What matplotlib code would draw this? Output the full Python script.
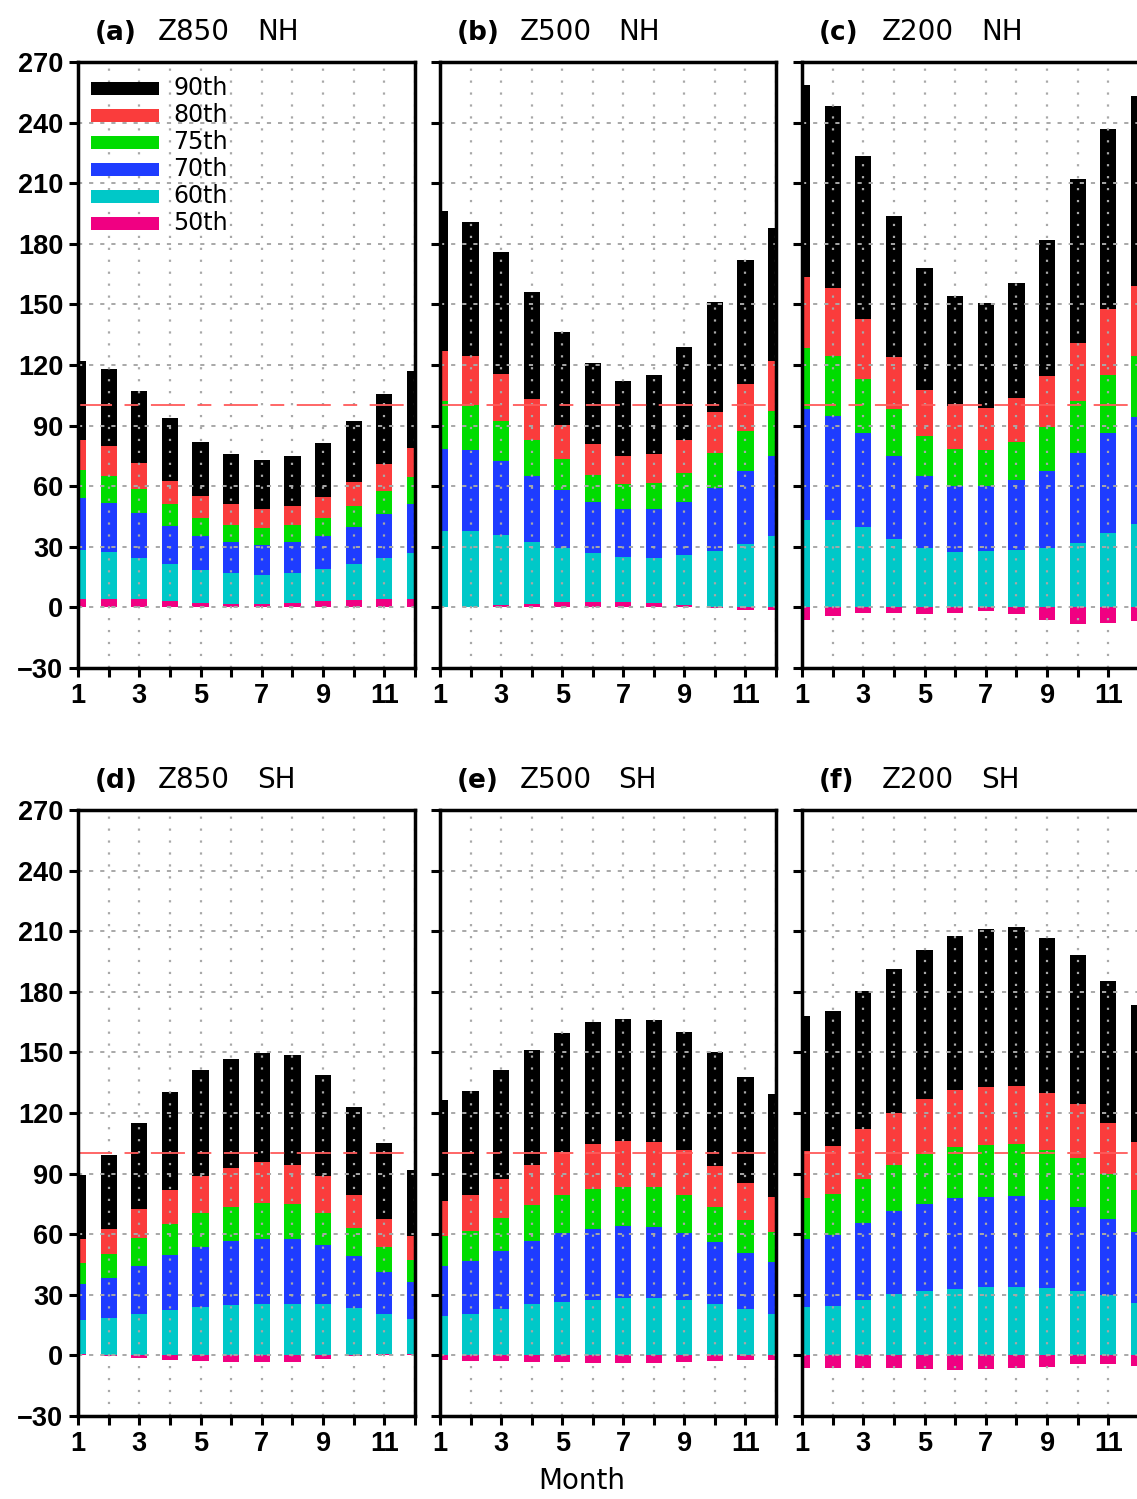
import matplotlib
matplotlib.use('Agg')
import matplotlib.pyplot as plt
from matplotlib.patches import Rectangle

plt.rcParams['lines.scale_dashes'] = False
plt.rcParams['font.family'] = ['DejaVu Sans']

months = list(range(1, 13))
percentiles = ['90th', '80th', '75th', '70th', '60th', '50th']
colors = ['#000000', '#FA3C3C', '#00DC00', '#1E3CFF', '#00C8C8', '#F00082']
yticks = list(range(-30, 271, 30))
xlabels = [str(m) if m % 2 == 1 else '' for m in months]

# (a) Z850 NH
a_p90 = [122, 118, 107, 94, 82, 76, 73, 75, 81.5, 92.5, 105.5, 117]
a_p80 = [83, 80, 71.5, 62.5, 55, 51, 48.5, 50, 54.5, 62, 71, 79]
a_p75 = [68, 65, 58.5, 51, 44.5, 41, 39.5, 41, 44.5, 50, 57.5, 64.5]
a_p70 = [54, 51.5, 46.5, 40.5, 35.5, 32.5, 31, 32.5, 35.5, 40, 46, 51]
a_p60 = [28.5, 27.5, 24.5, 21.5, 18.5, 17, 16, 17, 19, 21.5, 24.5, 27]
a_p50 = [4.3, 4.3, 4, 3, 2.2, 1.7, 1.5, 2, 3, 3.6, 4.1, 4]

# (b) Z500 NH
b_p90 = [196, 191, 176, 156, 136.5, 121, 112, 115, 129, 151, 172, 188]
b_p80 = [127, 124.5, 115.5, 103, 90.5, 81, 75, 76, 83, 96.5, 110.5, 122]
b_p75 = [102, 100, 92.5, 83, 73.5, 65.5, 61, 61.5, 66.5, 76.5, 87.5, 97]
b_p70 = [78.5, 78, 72.5, 65, 58, 52, 48.5, 48.5, 52, 59, 67.5, 75]
b_p60 = [38, 38, 36, 32.5, 29.5, 27, 25, 24.5, 26, 28, 31.5, 35.5]
b_p50 = [0.3, 0.4, 1.3, 1.8, 2.6, 2.9, 2.9, 2.2, 1.1, -0.4, -1.3, -1.3]

# (c) Z200 NH
c_p90 = [258.5, 248, 223.5, 194, 168, 154, 150.5, 160.5, 182, 212, 237, 253]
c_p80 = [163.5, 158, 143, 124, 107.5, 99.5, 98.5, 103.5, 114.5, 131, 147.5, 159]
c_p75 = [128.5, 124.5, 113, 98, 85, 78.5, 78, 82, 89.5, 102, 115, 124.5]
c_p70 = [98, 95, 86.5, 75, 65, 60, 60, 63, 67.5, 76.5, 86.5, 94.5]
c_p60 = [43.5, 43.5, 40, 34, 29.5, 27.5, 28, 28.5, 29.5, 32, 37, 41.5]
c_p50 = [-6.2, -4.4, -2.6, -2.6, -3.1, -2.6, -1.8, -3.3, -6, -8.2, -7.7, -6.6]

# (d) Z850 SH
d_p90 = [89.5, 99, 115, 130.5, 141.5, 146.5, 149.5, 148.5, 139, 123, 105, 92]
d_p80 = [57.5, 62.5, 72.5, 82, 89, 93, 95.5, 94.5, 89, 79.5, 67.5, 59]
d_p75 = [45.5, 50, 58, 65, 70.5, 73.5, 75.5, 75, 70.5, 63, 53.5, 47]
d_p70 = [35.5, 38.5, 44.5, 49.5, 53.5, 56.5, 57.5, 57.5, 54.5, 49, 41.5, 36.5]
d_p60 = [17.5, 18.5, 20.5, 22.5, 24, 25, 25.5, 25.5, 25.5, 23.5, 20.5, 18]
d_p50 = [0.5, -0.2, -1.2, -2.1, -2.8, -3.1, -3.5, -3.1, -1.9, -0.2, 0.7, 0.9]

# (e) Z500 SH
e_p90 = [126.5, 131, 141.5, 151, 159.5, 165, 166.5, 166, 160, 150, 138, 129.5]
e_p80 = [76.5, 79.5, 87.5, 94.5, 100.5, 104.5, 106, 105.5, 101.5, 94, 85.5, 78.5]
e_p75 = [59, 61.5, 68, 74.5, 79.5, 82.5, 83.5, 83.5, 79.5, 73.5, 67, 61]
e_p70 = [44.5, 46.5, 51.5, 56.5, 60.5, 62.5, 64, 63.5, 60.5, 56, 50.5, 46]
e_p60 = [19.5, 20.5, 23, 25.5, 26.5, 27.5, 28.5, 28.5, 27.5, 25.5, 23, 20.5]
e_p50 = [-2.4, -2.8, -2.8, -3.1, -3.5, -4, -3.8, -3.8, -3.1, -2.8, -2.1, -2.1]

# (f) Z200 SH
f_p90 = [168, 170.5, 180.5, 191.5, 200.5, 207.5, 211, 212, 206.5, 198, 185.5, 173.5]
f_p80 = [101, 103.5, 112, 120, 127, 131.5, 133, 133.5, 130, 124.5, 115, 105.5]
f_p75 = [78, 80, 87.5, 94.5, 99.5, 103, 104, 104.5, 101.5, 97.5, 90, 82]
f_p70 = [57.5, 59.5, 65.5, 71.5, 75, 78, 78.5, 79, 77, 73.5, 67.5, 61]
f_p60 = [24, 24.5, 27.5, 30.5, 32, 33, 34, 34, 33.5, 32, 30, 26]
f_p50 = [-6, -6.2, -6, -6.2, -6.6, -7, -6.6, -6.2, -5.5, -4.5, -4.3, -5]

panels = [
    ('(a)', 'Z850', 'NH', [a_p90, a_p80, a_p75, a_p70, a_p60, a_p50]),
    ('(b)', 'Z500', 'NH', [b_p90, b_p80, b_p75, b_p70, b_p60, b_p50]),
    ('(c)', 'Z200', 'NH', [c_p90, c_p80, c_p75, c_p70, c_p60, c_p50]),
    ('(d)', 'Z850', 'SH', [d_p90, d_p80, d_p75, d_p70, d_p60, d_p50]),
    ('(e)', 'Z500', 'SH', [e_p90, e_p80, e_p75, e_p70, e_p60, e_p50]),
    ('(f)', 'Z200', 'SH', [f_p90, f_p80, f_p75, f_p70, f_p60, f_p50]),
]

W, H = 1137, 1499
fig = plt.figure(figsize=(W / 100, H / 100), dpi=100)

col_px = [(78, 337), (440, 336), (802, 337)]
row_px = [(62, 668), (810, 1416)]

for idx, (tag, lev, hemi, series) in enumerate(panels):
    r, c = divmod(idx, 3)
    x0, w = col_px[c]
    top, bot = row_px[r]
    ax = fig.add_axes([x0 / W, 1 - bot / H, w / W, (bot - top) / H])
    for i, (vals, col) in enumerate(zip(series, colors)):
        ax.bar(months, vals, width=0.53, color=col, linewidth=0, zorder=1 + 0.01 * i)
    ax.set_xlim(1, 12)
    ax.set_ylim(-30, 270)
    ax.set_axisbelow(False)
    ax.xaxis.grid(True, color='#A8A8A8', linestyle=(0, (1.6, 7)), linewidth=1.6)
    ax.yaxis.grid(True, color='#A8A8A8', linestyle=(0, (3, 5)), linewidth=1.4)
    ax.axhline(100, color='#FF5A5A', linewidth=1.3, linestyle=(0, (24.5, 9, 10, 9)), zorder=4)
    ax.set_xticks(months)
    ax.set_xticklabels(xlabels, fontfamily='Liberation Sans', fontweight='bold', fontsize=19.5)
    ax.set_yticks(yticks)
    if c == 0:
        ax.set_yticklabels([str(v).replace('-', '\u2212') for v in yticks],
                           fontfamily='Liberation Sans', fontweight='bold', fontsize=19.5)
    else:
        ax.set_yticklabels([])
    ax.tick_params(axis='both', direction='out', length=6.5, width=2.2, pad=4, color='black')
    for sp in ax.spines.values():
        sp.set_linewidth(2.5)
        sp.set_color('black')
        sp.set_zorder(5)
    ax.text(0.05, 1.036, tag, transform=ax.transAxes, fontsize=19, fontweight='bold',
            ha='left', va='baseline')
    ax.text(0.237, 1.036, lev, transform=ax.transAxes, fontsize=20, ha='left', va='baseline')
    ax.text(0.531, 1.036, hemi, transform=ax.transAxes, fontsize=20, ha='left', va='baseline')

    if idx == 0:
        row_y = [88, 115, 142, 169, 196, 223]
        ph = 13 / (bot - top)
        for lab, col, yp in zip(percentiles, colors, row_y):
            yc = 1 - (yp - top) / (bot - top)
            ax.add_patch(Rectangle((0.0386, yc - ph / 2), 0.2018, ph, transform=ax.transAxes,
                                   facecolor=col, edgecolor='none', zorder=6))
            ax.text(0.282, yc, lab, transform=ax.transAxes, fontsize=17, ha='left',
                    va='center', zorder=6)

fig.text(582 / W, 4 / H, 'Month', fontsize=20, ha='center', va='bottom')

fig.savefig('out.png', dpi=100)
